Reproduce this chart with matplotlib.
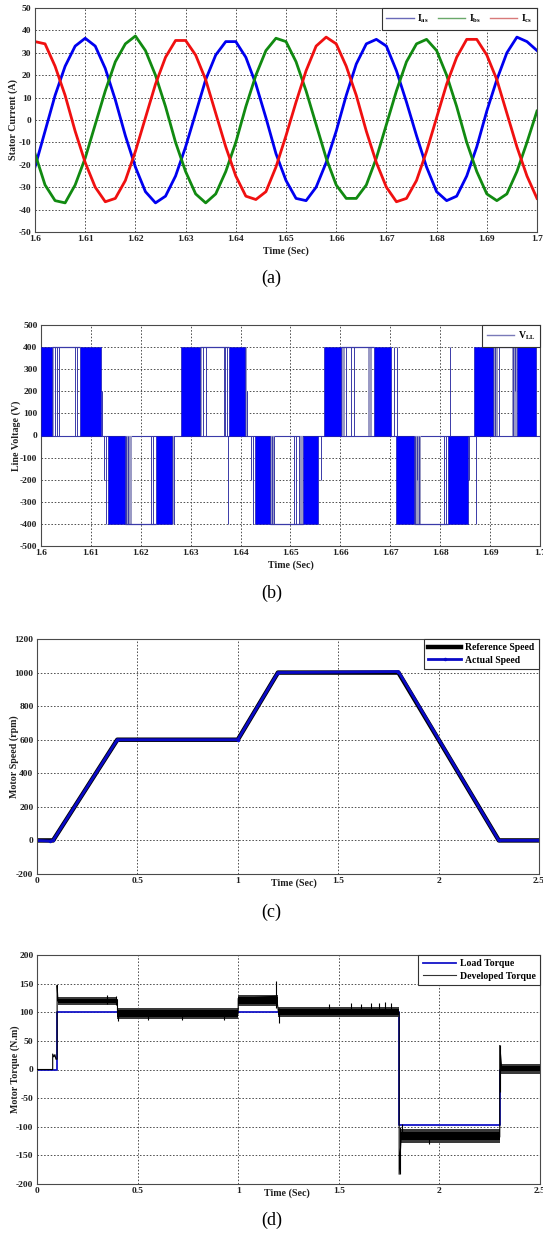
#!/usr/bin/env python3
"""Four stacked drive-simulation panels: stator currents, line voltage,
motor speed and motor torque. Saves out.png at 543x1233 px."""

import matplotlib
matplotlib.use("Agg")
import matplotlib.pyplot as plt
from matplotlib import rcParams
from matplotlib.lines import Line2D

W, H = 543, 1233

# ---------------------------------------------------------------------------
# (a) stator currents, sampled every 2 ms off the picture
# ---------------------------------------------------------------------------
TIME_A = [1.600, 1.602, 1.604, 1.606, 1.608, 1.610, 1.612, 1.614, 1.616, 1.618,
          1.620, 1.622, 1.624, 1.626, 1.628, 1.630, 1.632, 1.634, 1.636, 1.638,
          1.640, 1.642, 1.644, 1.646, 1.648, 1.650, 1.652, 1.654, 1.656, 1.658,
          1.660, 1.662, 1.664, 1.666, 1.668, 1.670, 1.672, 1.674, 1.676, 1.678,
          1.680, 1.682, 1.684, 1.686, 1.688, 1.690, 1.692, 1.694, 1.696, 1.698,
          1.700]
I_AS = [-21, -5, 11, 24, 33, 36.5, 33, 23, 9, -7,
        -21, -32, -37, -34, -25, -12, 3, 18, 29, 35,
        35, 28, 16, 1, -15, -27, -35, -36, -30, -19,
        -5, 11, 25, 34, 36, 33, 22, 8, -7, -21,
        -32, -36, -34, -25, -12, 4, 18, 30, 37, 35,
        31]
I_BS = [-15, -29, -36, -37, -29, -17, -2, 13, 26, 34,
        37.5, 31, 20, 6, -10, -23, -33, -37, -33, -23,
        -10, 6, 20, 31, 36.5, 35, 26, 13, -2, -17,
        -29, -35, -35, -29, -17, -2, 13, 26, 34, 36,
        31, 20, 6, -10, -23, -33, -36, -33, -23, -10,
        4]
I_CS = [35, 34, 24, 11, -5, -19, -30, -36.5, -35, -27,
        -14, 1, 16, 28, 35.5, 35.5, 29, 18, 3, -12,
        -25, -34, -35.5, -32, -21, -7, 8, 22, 33, 37,
        34, 24, 11, -5, -19, -30, -36.5, -35, -27, -14,
        1, 16, 28, 36, 36, 29, 18, 3, -12, -25,
        -35]

# ---------------------------------------------------------------------------
# (b) line-to-line voltage: dense PWM blocks, faded edges, holds, lone pulses
# ---------------------------------------------------------------------------
BLOCK_T0 = [1.6000, 1.6079, 1.6135, 1.6230, 1.6281, 1.6376, 1.6429,
            1.6525, 1.6567, 1.6667, 1.6712, 1.6816, 1.6867, 1.6954]
BLOCK_T1 = [1.6023, 1.6120, 1.6168, 1.6263, 1.6319, 1.6409, 1.6459,
            1.6555, 1.6601, 1.6702, 1.6747, 1.6855, 1.6906, 1.6992]
BLOCK_V = [400, 400, -400, -400, 400, 400, -400,
           -400, 400, 400, -400, -400, 400, 400]

FADE_T0 = [1.6023, 1.6168, 1.6263, 1.6319, 1.6409, 1.6459, 1.6519,
           1.6601, 1.6655, 1.6747, 1.6906, 1.6944]
FADE_T1 = [1.6027, 1.6182, 1.6267, 1.6323, 1.6412, 1.6468, 1.6525,
           1.6609, 1.6664, 1.6762, 1.6915, 1.6954]
FADE_V = [400, -400, -400, 400, 400, -400, -400,
          400, 400, -400, 400, 400]

HOLD_T0 = [1.6023, 1.6168, 1.6319, 1.6459, 1.6601, 1.6747, 1.6906]
HOLD_T1 = [1.6079, 1.6230, 1.6376, 1.6525, 1.6667, 1.6816, 1.6954]
HOLD_V = [400, -400, 400, -400, 400, -400, 400]

EDGE_T = [1.6029, 1.6033, 1.6037, 1.6068, 1.6072, 1.6122,
          1.6127, 1.6131, 1.6171, 1.6175, 1.6220, 1.6225, 1.6266,
          1.6325, 1.6331, 1.6366, 1.6369, 1.6373, 1.6374, 1.6412,
          1.6421, 1.6424, 1.6463, 1.6466, 1.6507, 1.6512, 1.6517, 1.6561,
          1.6612, 1.6621, 1.6627, 1.6708, 1.6714,
          1.6750, 1.6753, 1.6757, 1.6808, 1.6812, 1.6819, 1.6858, 1.6872,
          1.6910, 1.6918, 1.6946, 1.6950]
EDGE_LO = [0, 0, 0, 0, 0, 0,
           -200, -400, -400, -400, -400, -400, -400,
           0, 0, 0, 0, 0, -400, 0,
           -200, -400, -400, -400, -400, -400, -400, -200,
           0, 0, 0, 0, 0,
           -400, -200, -400, -400, -400, 0, -200, -400,
           0, 0, 0, 200]
EDGE_HI = [400, 400, 400, 400, 400, 200,
           0, 0, 0, 0, 0, 0, 0,
           400, 400, 400, 400, 400, 0, 200,
           0, 0, 0, 0, 0, 0, 0, 0,
           400, 400, 400, 400, 400,
           0, 0, 0, 0, 0, 400, 0, 0,
           400, 400, 400, 400]

# ---------------------------------------------------------------------------
# (c) motor speed
# ---------------------------------------------------------------------------
REF_T = [0, 0.08, 0.40, 1.00, 1.20, 1.80, 2.30, 2.50]
REF_SPEED = [0, 0, 600, 600, 1000, 1000, 0, 0]
ACT_T = [0, 0.065, 0.08, 0.40, 1.00, 1.20, 1.80, 2.30, 2.50]
ACT_SPEED = [0, -4, 0, 600, 600, 1000, 1006, 0, 0]

# ---------------------------------------------------------------------------
# (d) motor torque
# ---------------------------------------------------------------------------
LOAD_T = [0, 0.1, 0.1, 1.8, 1.8, 2.3, 2.3, 2.5]
LOAD_TQ = [0, 0, 100, 100, -97, -97, 0, 0]

DEV_T = [0, 0.078, 0.078, 0.084, 0.089, 0.094, 0.1, 0.1, 0.104, 0.40, 0.40,
         1.00, 1.00, 1.19, 1.20, 1.80, 1.80, 1.81, 2.30, 2.30, 2.31, 2.50]
DEV_TQ = [0, 0, 27, 22, 26, 18, 18, 147, 120, 122, 98,
          98, 124, 128, 100, 100, -183, -116, -118, 42, 1, 0]

BAND_T0 = [0.104, 0.40, 1.00, 1.20, 1.81, 2.30]
BAND_T1 = [0.40, 1.00, 1.20, 1.80, 2.30, 2.50]
BAND_LO = [113, 88, 111, 92, -128, -7]
BAND_HI = [127, 108, 131, 110, -104, 10]
CORE_LO = [116, 92, 114, 95, -123, -3]
CORE_HI = [124, 104, 127, 105, -109, 6]

SPIKE_T = [0.35, 0.395, 0.405, 0.55, 0.72, 0.93, 1.19, 1.205, 1.45,
           1.56, 1.61, 1.66, 1.70, 1.73, 1.76, 1.803, 1.812, 1.95, 2.303]
SPIKE_LO = [115, 112, 84, 86, 86, 86, 108, 82, 100,
            100, 100, 100, 100, 100, 100, -183, -120, -130, -40]
SPIKE_HI = [131, 128, 100, 100, 100, 100, 155, 108, 114,
            116, 114, 117, 116, 118, 116, -100, -96, -110, 42]

# Palette
INK = "#202020"
FRAME = "#4a4a4a"
GRID = "#505050"
BLUE = "#0000f0"
GREEN = "#118a11"
RED = "#f01010"
PWM_FILL = "#0000ff"
PWM_EDGE = "#3a3aa8"
PWM_FADE = "#9a9ac4"
SERIF = "Liberation Serif"


def style():
    rcParams.update({
        "font.family": SERIF,
        "font.weight": "bold",
        "font.size": 7,
        "axes.edgecolor": FRAME,
        "axes.linewidth": 0.8,
        "axes.labelweight": "bold",
        "axes.labelsize": 7.2,
        "axes.labelcolor": INK,
        "xtick.labelsize": 6.8,
        "ytick.labelsize": 6.8,
        "xtick.color": INK,
        "ytick.color": INK,
        "xtick.major.size": 0,
        "ytick.major.size": 0,
        "xtick.major.pad": 2.5,
        "ytick.major.pad": 2.5,
        "mathtext.fontset": "custom",
        "mathtext.rm": SERIF,
        "mathtext.bf": SERIF + ":bold",
        "legend.fontsize": 7,
    })


def make_axes(fig, left, top, right, bottom):
    return fig.add_axes([left / W, 1 - bottom / H,
                         (right - left) / W, (bottom - top) / H])


def frame(ax, xlim, ylim, xticks, yticks, ylabel, ylab_x, xlab_pos):
    ax.set_xlim(*xlim)
    ax.set_ylim(*ylim)
    ax.set_xticks(xticks)
    ax.set_xticklabels([f"{v:g}" for v in xticks])
    ax.set_yticks(yticks)
    ax.set_yticklabels([f"{v:g}" for v in yticks])
    ax.grid(True, linestyle=(0, (1.6, 1.8)), color=GRID, linewidth=0.7)
    ax.set_axisbelow(True)
    ax.set_ylabel(ylabel, va="center")
    ax.yaxis.set_label_coords(ylab_x, 0.5)
    ax.set_xlabel("Time (Sec)", va="center")
    ax.xaxis.set_label_coords(*xlab_pos)


def legend(ax, handles, labels, **kw):
    leg = ax.legend(handles, labels, loc="upper right", borderaxespad=0,
                    fancybox=False, framealpha=1, edgecolor="#333333",
                    borderpad=0.45, labelspacing=0.35, handletextpad=0.4,
                    **kw)
    leg.get_frame().set_linewidth(0.8)
    return leg


def caption(fig, y, text):
    fig.text(0.5, 1 - y / H, text, ha="center", va="center",
             fontsize=13, fontweight="normal", family=SERIF)


def plot_currents(fig):
    ax = make_axes(fig, 35, 8, 537, 232)
    ax.plot(TIME_A, I_AS, color=BLUE, lw=2.0)
    ax.plot(TIME_A, I_BS, color=GREEN, lw=2.0)
    ax.plot(TIME_A, I_CS, color=RED, lw=2.0)
    frame(ax, (1.6, 1.7), (-50, 50),
          [1.6, 1.61, 1.62, 1.63, 1.64, 1.65, 1.66, 1.67, 1.68, 1.69, 1.7],
          list(range(-50, 51, 10)), "Stator Current (A)",
          -0.043, (0.5, -0.087))
    handles = [Line2D([], [], color="#6a6ab8", lw=1.0),
               Line2D([], [], color="#6aa86a", lw=1.0),
               Line2D([], [], color="#d87a7a", lw=1.0)]
    legend(ax, handles,
           [r"$\mathbf{I}_{\mathbf{as}}$", r"$\mathbf{I}_{\mathbf{bs}}$",
            r"$\mathbf{I}_{\mathbf{cs}}$"],
           ncol=3, handlelength=2.8, columnspacing=0.9)
    caption(fig, 278, "(a)")


def plot_voltage(fig):
    ax = make_axes(fig, 41, 325, 540, 546)
    ax.axhline(0, color=PWM_EDGE, lw=0.8, zorder=2)
    widths = [b - a for a, b in zip(FADE_T0, FADE_T1)]
    ax.bar(FADE_T0, FADE_V, width=widths, align="edge", color=PWM_FADE,
           linewidth=0, zorder=2)
    widths = [b - a for a, b in zip(BLOCK_T0, BLOCK_T1)]
    ax.bar(BLOCK_T0, BLOCK_V, width=widths, align="edge", color=PWM_FILL,
           edgecolor="#1a1ab0", linewidth=0.5, zorder=3)
    ax.hlines(HOLD_V, HOLD_T0, HOLD_T1, color=PWM_EDGE, lw=0.9, zorder=3)
    ax.vlines(EDGE_T, EDGE_LO, EDGE_HI, color=PWM_EDGE, lw=0.7, zorder=3)
    frame(ax, (1.6, 1.7), (-500, 500),
          [1.6, 1.61, 1.62, 1.63, 1.64, 1.65, 1.66, 1.67, 1.68, 1.69, 1.7],
          list(range(-500, 501, 100)), "Line Voltage (V)",
          -0.049, (0.5, -0.089))
    legend(ax, [Line2D([], [], color="#7a7ab8", lw=1.0)],
           [r"$\mathbf{V}_{\mathbf{LL}}$"], handlelength=2.8)
    caption(fig, 593, "(b)")


def plot_speed(fig):
    ax = make_axes(fig, 37, 639, 539, 874)
    ax.plot(REF_T, REF_SPEED, color="black", lw=3.2, label="Reference Speed")
    ax.plot(ACT_T, ACT_SPEED, color="#0a0ac8", lw=2.0, marker=".",
            markersize=3, label="Actual Speed")
    frame(ax, (0, 2.5), (-200, 1200), [0, 0.5, 1, 1.5, 2, 2.5],
          list(range(-200, 1201, 200)), "Motor Speed (rpm)",
          -0.046, (0.511, -0.041))
    h, l = ax.get_legend_handles_labels()
    legend(ax, h, l, handlelength=3.4, markerscale=1.0)
    caption(fig, 912, "(c)")


def plot_torque(fig):
    ax = make_axes(fig, 37, 955, 540, 1184)
    ax.plot(LOAD_T, LOAD_TQ, color="#1414c8", lw=1.3, zorder=2)
    widths = [b - a for a, b in zip(BAND_T0, BAND_T1)]
    heights = [b - a for a, b in zip(BAND_LO, BAND_HI)]
    ax.bar(BAND_T0, heights, width=widths, bottom=BAND_LO, align="edge",
           color="#3a3a3a", linewidth=0, zorder=3)
    heights = [b - a for a, b in zip(CORE_LO, CORE_HI)]
    ax.bar(BAND_T0, heights, width=widths, bottom=CORE_LO, align="edge",
           color="black", linewidth=0, zorder=3)
    ax.vlines(SPIKE_T, SPIKE_LO, SPIKE_HI, color="black", lw=0.8, zorder=3)
    ax.plot(DEV_T, DEV_TQ, color="black", lw=0.8, zorder=3)
    frame(ax, (0, 2.5), (-200, 200), [0, 0.5, 1, 1.5, 2, 2.5],
          list(range(-200, 201, 50)), "Motor Torque (N.m)",
          -0.044, (0.496, -0.038))
    handles = [Line2D([], [], color="#1414c8", lw=1.3),
               Line2D([], [], color="#333333", lw=0.8)]
    legend(ax, handles, ["Load Torque", "Developed Torque"], handlelength=3.4)
    caption(fig, 1220, "(d)")


def main():
    style()
    fig = plt.figure(figsize=(W / 100, H / 100), dpi=100)
    plot_currents(fig)
    plot_voltage(fig)
    plot_speed(fig)
    plot_torque(fig)
    fig.savefig("out.png", dpi=100)
    plt.close(fig)


if __name__ == "__main__":
    main()
